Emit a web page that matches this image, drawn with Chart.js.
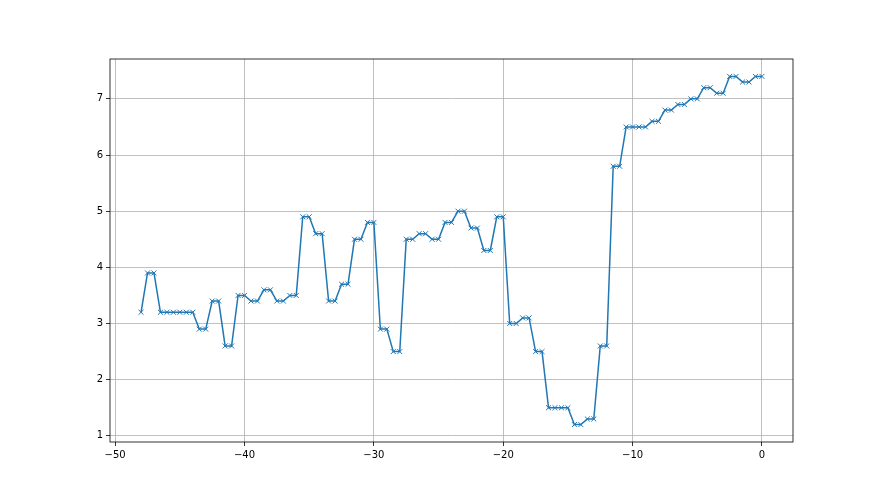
<!DOCTYPE html>
<html>
<head>
<meta charset="utf-8">
<script src="https://cdn.jsdelivr.net/npm/chart.js@4/dist/chart.umd.min.js"></script>
<style>
html,body{margin:0;padding:0;background:#fff;}
#wrap{width:880px;height:495px;position:relative;}
</style>
</head>
<body>
<div id="wrap"><canvas id="c" width="880" height="495"></canvas></div>
<script>
const xValues = [-48,-47.5,-47,-46.5,-46,-45.5,-45,-44.5,-44,-43.5,-43,-42.5,-42,-41.5,-41,-40.5,-40,
  -39.5,-39,-38.5,-38,-37.5,-37,-36.5,-36,-35.5,-35,-34.5,-34,-33.5,-33,-32.5,-32,-31.5,-31,-30.5,-30,
  -29.5,-29,-28.5,-28,-27.5,-27,-26.5,-26,-25.5,-25,-24.5,-24,-23.5,-23,-22.5,-22,-21.5,-21,-20.5,-20,
  -19.5,-19,-18.5,-18,-17.5,-17,-16.5,-16,-15.5,-15,-14.5,-14,-13.5,-13,-12.5,-12,-11.5,-11,-10.5,-10,
  -9.5,-9,-8.5,-8,-7.5,-7,-6.5,-6,-5.5,-5,-4.5,-4,-3.5,-3,-2.5,-2,-1.5,-1,-0.5,0];
const yValues = [3.2,3.9,3.9,3.2,3.2,3.2,3.2,3.2,3.2,2.9,2.9,3.4,3.4,2.6,2.6,3.5,3.5,
  3.4,3.4,3.6,3.6,3.4,3.4,3.5,3.5,4.9,4.9,4.6,4.6,3.4,3.4,3.7,3.7,4.5,4.5,4.8,4.8,
  2.9,2.9,2.5,2.5,4.5,4.5,4.6,4.6,4.5,4.5,4.8,4.8,5.0,5.0,4.7,4.7,4.3,4.3,4.9,4.9,
  3.0,3.0,3.1,3.1,2.5,2.5,1.5,1.5,1.5,1.5,1.2,1.2,1.3,1.3,2.6,2.6,5.8,5.8,6.5,6.5,
  6.5,6.5,6.6,6.6,6.8,6.8,6.9,6.9,7.0,7.0,7.2,7.2,7.1,7.1,7.4,7.4,7.3,7.3,7.4,7.4];
const xTicks = [-50,-40,-30,-20,-10,0];
const yTicks = [1,2,3,4,5,6,7];

const frame = {
  id:'frame',
  afterDraw(chart){
    const a = chart.chartArea, ctx = chart.ctx;
    ctx.save();
    ctx.strokeStyle = '#000';
    ctx.lineWidth = 0.8;
    ctx.strokeRect(a.left, a.top, a.right - a.left, a.bottom - a.top);
    ctx.restore();
  }
};

const font = {family:'DejaVu Sans', size:10};
new Chart(document.getElementById('c'), {
  type:'line',
  data:{datasets:[{
    data:xValues.map((x,i)=>({x:x,y:yValues[i]})),
    borderColor:'#1f77b4',
    backgroundColor:'#1f77b4',
    borderWidth:1.5,
    pointStyle:'crossRot',
    pointRadius:3.5,
    pointBorderWidth:1,
    pointBorderColor:'#1f77b4',
    tension:0,
    fill:false
  }]},
  options:{
    responsive:false,
    animation:false,
    devicePixelRatio:1,
    events:[],
    layout:{padding:{left:0,top:59,right:87,bottom:0}},
    plugins:{legend:{display:false},tooltip:{enabled:false}},
    scales:{
      x:{
        type:'linear', min:-50.4, max:2.4,
        afterBuildTicks(s){ s.ticks = xTicks.map(v=>({value:v})); },
        afterFit(s){ s.height = 53; },
        grid:{color:'#b0b0b0', lineWidth:0.8, tickColor:'#000', tickLength:4, drawTicks:true},
        border:{display:false},
        ticks:{color:'#000', font:font, padding:3, maxRotation:0, callback:v=>String(v).replace('-','\u2212')}
      },
      y:{
        type:'linear', min:0.89, max:7.71,
        afterBuildTicks(s){ s.ticks = yTicks.map(v=>({value:v})); },
        afterFit(s){ s.width = 110; },
        grid:{color:'#b0b0b0', lineWidth:0.8, tickColor:'#000', tickLength:4, drawTicks:true},
        border:{display:false},
        ticks:{color:'#000', font:font, padding:3, callback:v=>String(v)}
      }
    }
  },
  plugins:[frame]
});
</script>
</body>
</html>
